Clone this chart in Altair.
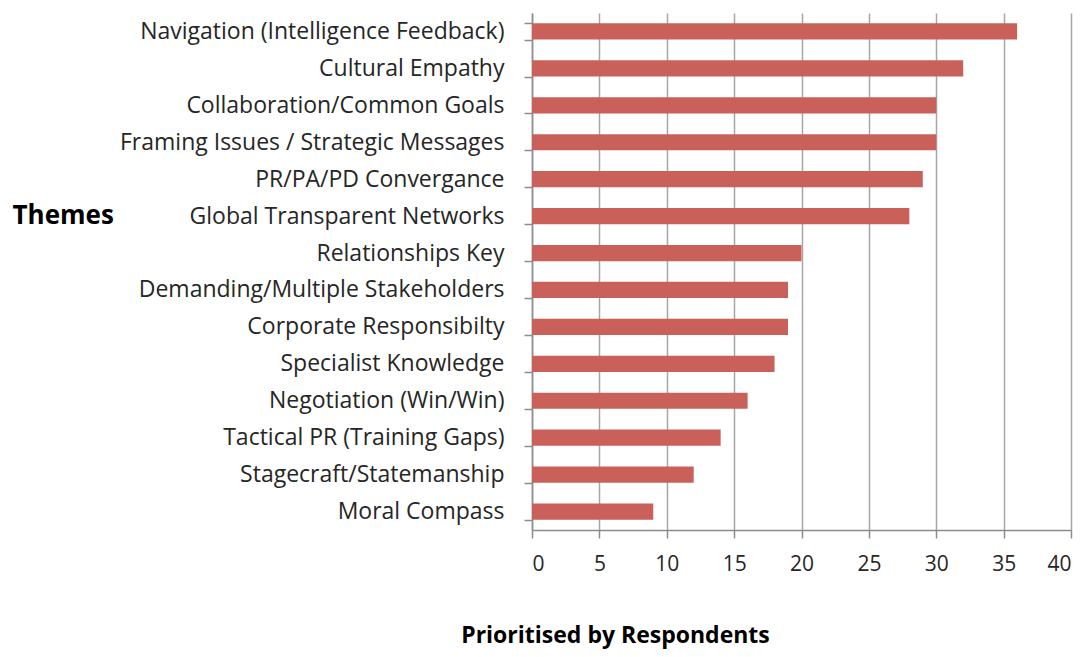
import altair as alt
import pandas as pd

themes = [
    "Navigation (Intelligence Feedback)",
    "Cultural Empathy",
    "Collaboration/Common Goals",
    "Framing Issues / Strategic Messages",
    "PR/PA/PD Convergance",
    "Global Transparent Networks",
    "Relationships Key",
    "Demanding/Multiple Stakeholders",
    "Corporate Responsibilty",
    "Specialist Knowledge",
    "Negotiation (Win/Win)",
    "Tactical PR (Training Gaps)",
    "Stagecraft/Statemanship",
    "Moral Compass",
]
counts = [36, 32, 30, 30, 29, 28, 20, 19, 19, 18, 16, 14, 12, 9]
x_ticks = [0, 5, 10, 15, 20, 25, 30, 35, 40]

df = pd.DataFrame({"theme": themes, "count": counts})

FONT = "Open Sans"

chart = (
    alt.Chart(df)
    .mark_bar(color="#C9605A")
    .encode(
        y=alt.Y(
            "theme:N",
            sort=themes,
            scale=alt.Scale(paddingInner=0.56, paddingOuter=0.28),
            axis=alt.Axis(
                title="Themes",
                titleAngle=0,
                titleX=-520,
                titleY=202,
                titleAlign="left",
                titleBaseline="middle",
                titleFont=FONT,
                titleFontSize=26,
                titleFontWeight="bold",
                titleColor="#000000",
                labelFont=FONT,
                labelFontSize=23,
                labelColor="#262626",
                labelPadding=20,
                labelLimit=520,
                tickBand="extent",
                tickSize=8,
                tickColor="#8C8C8C",
                tickWidth=1.5,
                domainColor="#8C8C8C",
                domainWidth=1.5,
                grid=False,
            ),
        ),
        x=alt.X(
            "count:Q",
            scale=alt.Scale(domain=[0, 40], nice=False),
            axis=alt.Axis(
                values=x_ticks,
                title="Prioritised by Respondents",
                titleX=83,
                titleY=105,
                titleAlign="center",
                titleBaseline="middle",
                titleFont=FONT,
                titleFontSize=23,
                titleFontWeight="bold",
                titleColor="#000000",
                labelFont=FONT,
                labelFontSize=21,
                labelColor="#262626",
                labelPadding=15,
                tickSize=8,
                tickColor="#8C8C8C",
                tickWidth=1.5,
                domainColor="#8C8C8C",
                domainWidth=1.5,
                grid=True,
                gridColor="#A6A6A6",
                gridWidth=1.5,
            ),
        ),
    )
    .properties(
        width=539,
        height=517,
        autosize=alt.AutoSizeParams(type="none"),
        padding={"left": 524, "top": 5, "right": 5, "bottom": 119},
    )
    .configure_view(stroke=None)
)

chart.save("out.html", embed_options={"renderer": "svg", "actions": False})
